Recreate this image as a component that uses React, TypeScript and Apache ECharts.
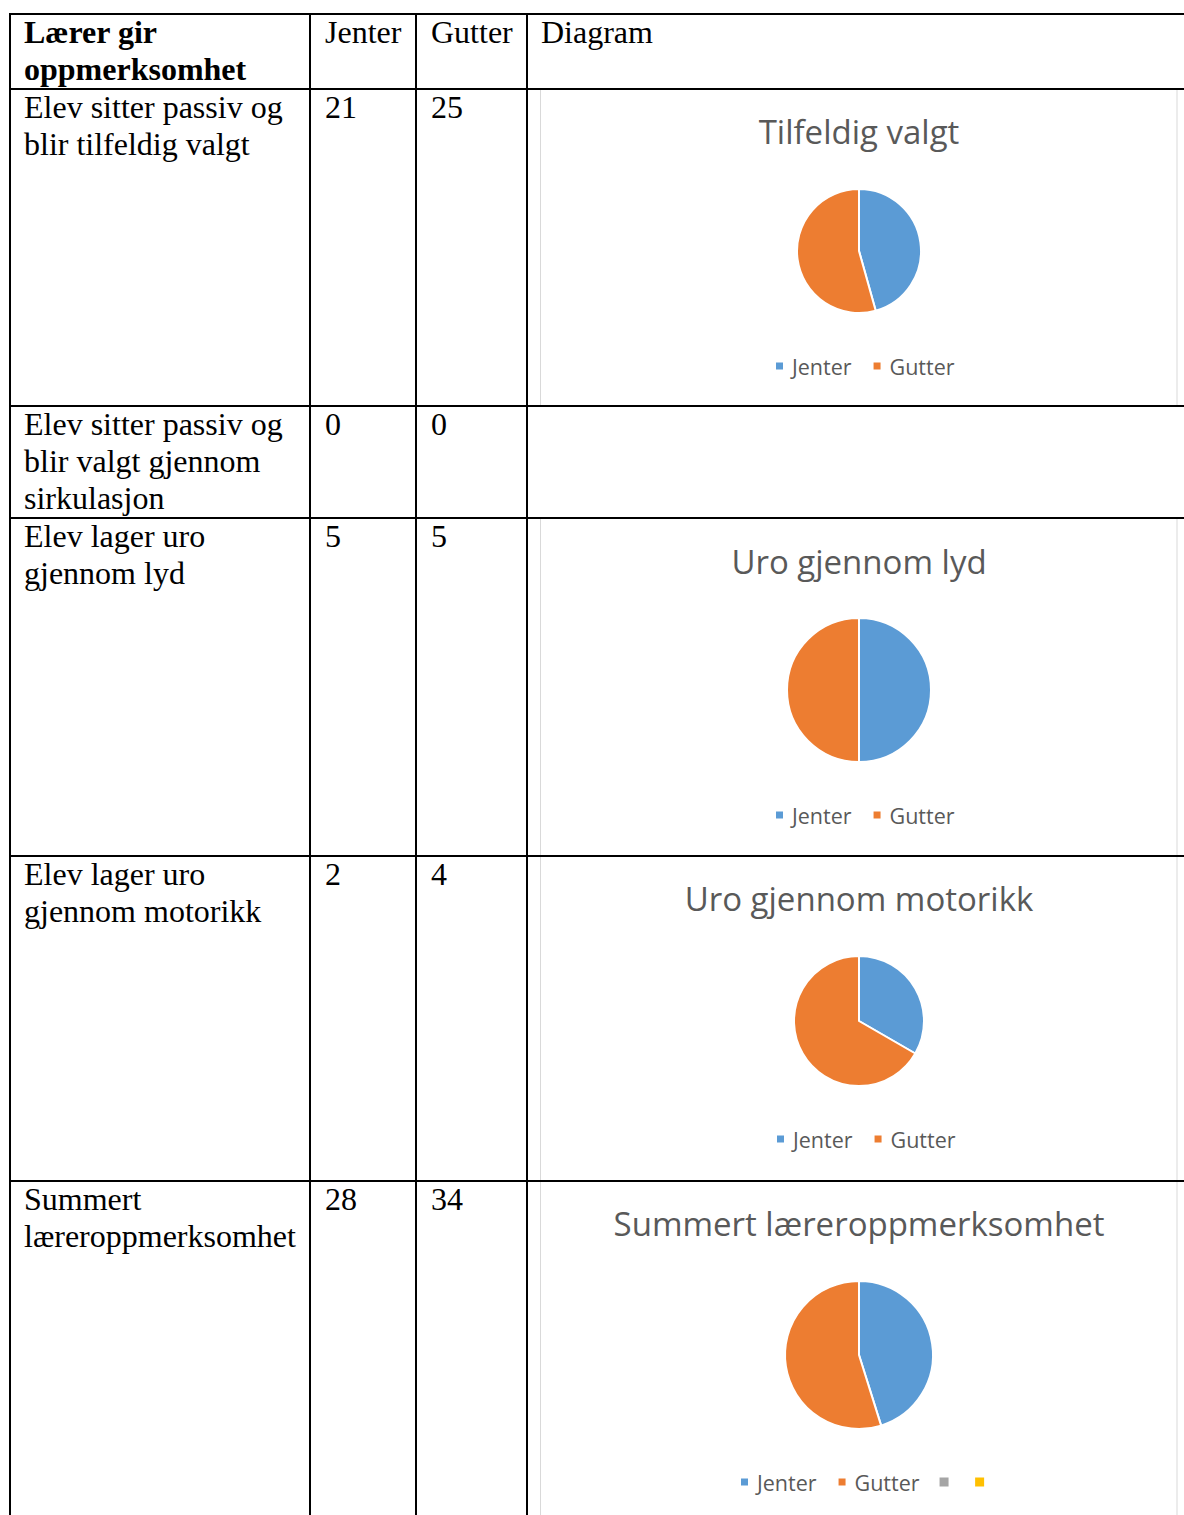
import React, { useEffect, useRef } from "react";
import * as echarts from "echarts";

// ---- Data ----
const headers = ["Lærer gir\noppmerksomhet", "Jenter", "Gutter", "Diagram"];
const rowLabels = [
  "Elev sitter passiv og\nblir tilfeldig valgt",
  "Elev sitter passiv og\nblir valgt gjennom\nsirkulasjon",
  "Elev lager uro\ngjennom lyd",
  "Elev lager uro\ngjennom motorikk",
  "Summert\nlæreroppmerksomhet",
];
const jenter = [21, 0, 5, 2, 28];
const gutter = [25, 0, 5, 4, 34];
const chartTitles = ["Tilfeldig valgt", "", "Uro gjennom lyd", "Uro gjennom motorikk", "Summert læreroppmerksomhet"];
const seriesNames = ["Jenter", "Gutter"];
const extraNames = ["\u00a0", "\u00a0\u00a0"]; // unnamed extra legend entries on the last chart

// ---- Layout / style ----
const W = 1184;
const H = 1515;
const colX = [10, 310, 416, 527];
const textX = [24, 325, 431, 541];
const rowY = [14, 89, 406, 518, 856, 1181];
const LINE_H = 37;
const serif = "Liberation Serif";
const sans = "Open Sans";
const BLUE = "#5B9BD5";
const ORANGE = "#ED7D31";
const GREY = "#A5A5A5";
const YELLOW = "#FFC000";
const TXT = "#595959";
const CX = 859;

// per data row: pie centre y, radius, title centre y, legend centre y, legend left x
const pieLayout: Record<number, { cy: number; r: number; ty: number; ly: number; lx: number }> = {
  0: { cy: 251, r: 62, ty: 133, ly: 367, lx: 774 },
  2: { cy: 690, r: 72, ty: 563, ly: 816, lx: 774 },
  3: { cy: 1021, r: 65, ty: 900, ly: 1140, lx: 775 },
  4: { cy: 1355, r: 74, ty: 1225, ly: 1483, lx: 739 },
};

export default function App() {
  const ref = useRef<HTMLDivElement>(null);

  useEffect(() => {
    if (!ref.current) return;
    const chart = echarts.init(ref.current, null, { renderer: "svg" });

    const graphics: any[] = [];

    // chart boxes
    Object.keys(pieLayout).forEach((k) => {
      const i = Number(k);
      const top = rowY[i + 1];
      const bottom = i + 2 < rowY.length ? rowY[i + 2] : H + 10;
      graphics.push({
        type: "rect",
        shape: { x: 540.5, y: top + 0.5, width: 636.5, height: bottom - top - 1 },
        style: { fill: "none", stroke: "#d9d9d9", lineWidth: 1 },
        silent: true,
      });
    });

    // table lines
    rowY.forEach((y) => {
      graphics.push({
        type: "line",
        shape: { x1: colX[0] - 1, y1: y, x2: W + 5, y2: y },
        style: { stroke: "#000", lineWidth: 2 },
        silent: true,
      });
    });
    colX.forEach((x) => {
      graphics.push({
        type: "line",
        shape: { x1: x, y1: rowY[0] - 1, x2: x, y2: H + 5 },
        style: { stroke: "#000", lineWidth: 2 },
        silent: true,
      });
    });

    // header texts
    headers.forEach((h, c) => {
      graphics.push({
        type: "text",
        x: textX[c],
        y: rowY[0] - 0.5,
        style: {
          text: h,
          fontFamily: serif,
          fontSize: 32,
          fontWeight: c === 0 ? "bold" : "normal",
          lineHeight: LINE_H,
          fill: "#000",
          verticalAlign: "top",
        },
        silent: true,
      });
    });

    // body texts
    rowLabels.forEach((lab, r) => {
      const y = rowY[r + 1] - 0.5;
      [lab, String(jenter[r]), String(gutter[r])].forEach((t, c) => {
        graphics.push({
          type: "text",
          x: textX[c],
          y,
          style: {
            text: t,
            fontFamily: serif,
            fontSize: 32,
            lineHeight: LINE_H,
            fill: "#000",
            verticalAlign: "top",
          },
          silent: true,
        });
      });
    });

    const titles: any[] = [];
    const legends: any[] = [];
    const series: any[] = [];

    Object.keys(pieLayout).forEach((k) => {
      const i = Number(k);
      const L = pieLayout[i];
      const isLast = i === rowLabels.length - 1;
      titles.push({
        text: chartTitles[i],
        left: CX,
        top: L.ty - 18,
        textAlign: "center",
        padding: 0,
        textStyle: { fontFamily: sans, fontSize: 33, fontWeight: "normal", color: TXT },
      });
      const data: any[] = [
        { name: seriesNames[0], value: jenter[i], itemStyle: { color: BLUE } },
        { name: seriesNames[1], value: gutter[i], itemStyle: { color: ORANGE } },
      ];
      const legendData: any[] = [{ name: seriesNames[0] }, { name: seriesNames[1] }];
      if (isLast) {
        data.push({ name: extraNames[0], value: 0, itemStyle: { color: GREY, borderWidth: 0 } });
        data.push({ name: extraNames[1], value: 0, itemStyle: { color: YELLOW, borderWidth: 0 } });
        legendData.push({ name: extraNames[0], textStyle: { fontSize: 6, padding: 0 } });
        legendData.push({ name: extraNames[1], textStyle: { fontSize: 6, padding: 0 } });
      }
      legends.push({
        data: legendData,
        left: L.lx,
        top: L.ly - 12,
        orient: "horizontal",
        icon: "rect",
        itemWidth: 9,
        itemHeight: 9,
        itemGap: 20,
        padding: 0,
        selectedMode: false,
        textStyle: { fontFamily: sans, fontSize: 21.5, color: TXT, padding: [0, 0, 0, 3] },
      });
      series.push({
        type: "pie",
        center: [CX, L.cy],
        radius: L.r,
        startAngle: 90,
        clockwise: true,
        silent: true,
        label: { show: false },
        labelLine: { show: false },
        emphasis: { disabled: true },
        itemStyle: { borderColor: "#fff", borderWidth: 2 },
        data,
      });
    });

    chart.setOption({
      animation: false,
      backgroundColor: "#fff",
      title: titles,
      legend: legends,
      series,
      graphic: { elements: graphics },
    });

    return () => chart.dispose();
  }, []);

  return (
    <div
      ref={ref}
      style={{ position: "absolute", left: 0, top: 0, width: W, height: H, overflow: "hidden" }}
    />
  );
}
